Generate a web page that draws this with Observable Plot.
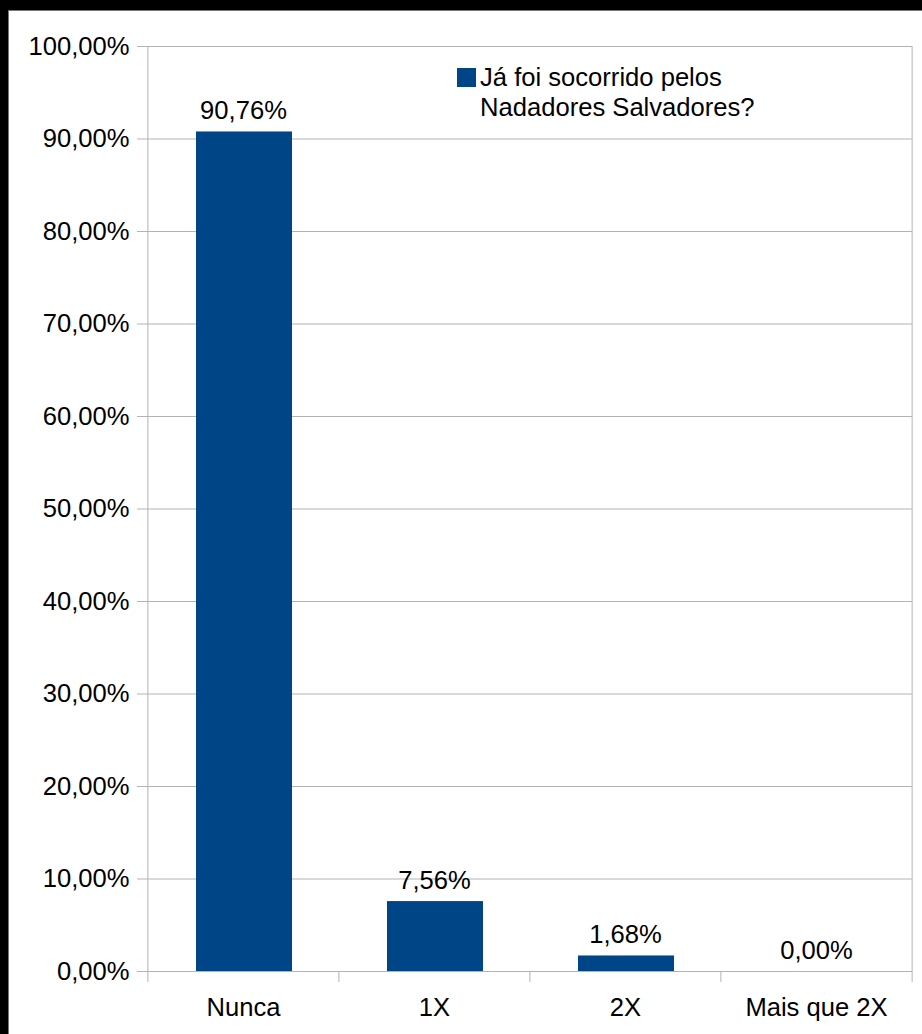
<!DOCTYPE html>
<html><head><meta charset="utf-8">
<script src="https://cdn.jsdelivr.net/npm/d3@7"></script>
<script src="https://cdn.jsdelivr.net/npm/@observablehq/plot@0.6"></script>
<style>
html,body{margin:0;padding:0;background:#000;width:922px;height:1034px;overflow:hidden;}
#wrap{position:absolute;left:8px;top:10px;width:914px;height:1024px;background:#fff;border-top:1px solid #777;border-left:1px solid #777;box-sizing:border-box;font-family:"Liberation Sans",Arial,sans-serif;}
#chart{position:absolute;left:0;top:0;}
#legend{position:absolute;left:448px;top:51px;font-size:25.6px;line-height:30px;color:#000;}
#legend .sw{position:absolute;left:0;top:6px;width:19px;height:19px;background:#004586;}
#legend .tx{position:absolute;left:23px;top:0;white-space:nowrap;}
</style></head>
<body>
<div id="wrap"><div id="chart"></div>
<div id="legend"><div class="sw"></div><div class="tx">Já foi socorrido pelos<br>Nadadores Salvadores?</div></div>
</div>
<script>
const categories = ["Nunca", "1X", "2X", "Mais que 2X"];
const values = [90.76, 7.56, 1.68, 0.00];
const yTicks = [0, 10, 20, 30, 40, 50, 60, 70, 80, 90, 100];
const seriesName = "Já foi socorrido pelos Nadadores Salvadores?";

const data = categories.map((c, i) => ({cat: c, value: values[i]}));
const fmt = v => v.toFixed(2).replace(".", ",") + "%";

const W = 913, H = 1023, ML = 138, MR = 10, MT = 35, MB = 63;
const plotW = W - ML - MR, plotH = H - MT - MB;
const step = plotW / categories.length;
const grid = "#b3b3b3";
const fs = 25.6;

const chart = Plot.plot({
  width: W, height: H,
  marginLeft: ML, marginRight: MR, marginTop: MT, marginBottom: MB,
  style: {fontFamily: "'Liberation Sans', Arial, sans-serif", color: "#000", background: "transparent"},
  x: {domain: categories, paddingInner: 0.5, paddingOuter: 0.25, label: null},
  y: {domain: [0, 100], label: null},
  marks: [
    Plot.gridY(yTicks, {stroke: grid, strokeOpacity: 1}),
    Plot.axisY(yTicks, {tickSize: 10, tickPadding: 8, stroke: grid, strokeOpacity: 1, fontSize: fs, tickFormat: fmt, label: null}),
    Plot.ruleX([categories[0]], {dx: -step / 2, stroke: grid, insetBottom: -11}),
    Plot.ruleX(categories.slice(1), {dx: -step / 2, stroke: grid, insetTop: plotH, insetBottom: -11}),
    Plot.ruleX([categories[categories.length - 1]], {dx: step / 2, stroke: grid, insetBottom: -11}),
    Plot.barY(data, {x: "cat", y: "value", fill: "#004586", dx: 1}),
    Plot.text(data, {x: "cat", y: "value", text: d => fmt(d.value), lineAnchor: "bottom", dy: -13, fontSize: fs, fill: "#000"}),
    Plot.axisX({tickSize: 0, tickPadding: 26, fontSize: fs, label: null})
  ]
});
document.getElementById("chart").appendChild(chart);
</script>
</body></html>
